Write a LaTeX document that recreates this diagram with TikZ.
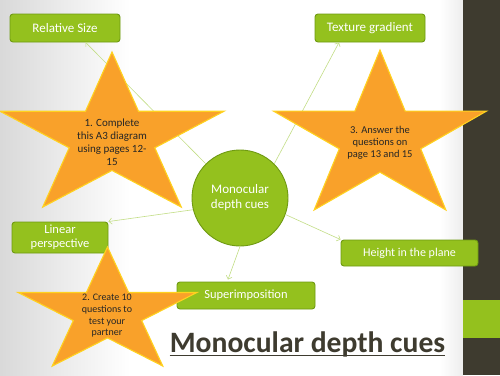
\documentclass[tikz,border=0pt]{standalone}
\usepackage{fontspec}
\setmainfont{Carlito}
\usepackage{tikz}
\usetikzlibrary{arrows.meta,shapes.geometric}
\definecolor{cuegreen}{HTML}{94C11E}
\definecolor{cueborder}{HTML}{6F9A12}
\definecolor{linkgreen}{HTML}{C3DE86}
\definecolor{starorange}{HTML}{F9A12A}
\definecolor{staredge}{HTML}{FFD21F}
\definecolor{slatedark}{HTML}{3E3B2F}

\begin{document}
\begin{tikzpicture}[x=1pt, y=-1pt, box/.style={draw=cueborder, fill=cuegreen, line width=0.9pt, rounded corners=3pt, text=white, align=center, inner sep=0pt, font=\fontsize{13}{14.3}\selectfont}, arr/.style={-{Straight Barb[length=3pt,width=6pt]}, draw=linkgreen, line width=0.6pt}, cuestar/.style={star, star points=5, star point ratio=2.618, inner sep=0pt, draw=staredge, line width=1.1pt, fill=starorange}, task/.style={align=center, text=black!85, inner sep=0pt}]
\useasboundingbox (0,0) rectangle (500,375);
\fill[white] (0,0) rectangle (500,375);
\shade[left color=black!15, right color=white] (0,0) rectangle (130,375);
\shade[left color=white, right color=black!7] (440,0) rectangle (463,375);
\fill[slatedark] (463,0) rectangle (500,375);
\fill[cuegreen] (463,300) rectangle (500,338);
\node[box, minimum width=110pt, minimum height=28pt] (relsize) at (65,28) {Relative Size};
\node[box, minimum width=110pt, minimum height=28pt] (texture) at (370,28) {Texture gradient};
\node[box, minimum width=96pt, minimum height=31pt, font=\fontsize{12.5}{14.3}\selectfont] (linear) at (60,237.5) {Linear\\perspective};
\node[box, minimum width=138pt, minimum height=27pt, font=\fontsize{12.5}{14.3}\selectfont] (superimp) at (246,295.5) {Superimposition};
\node[box, minimum width=137pt, minimum height=26pt, font=\fontsize{12}{14.3}\selectfont] (height) at (409.5,253) {Height in the plane};
\node[box, circle, minimum size=96pt, font=\fontsize{13}{15}\selectfont] (cues) at (240,198) {Monocular\\depth cues};
\draw[arr] (cues.135) -- (relsize.-35);
\draw[arr] (cues.45) -- (texture.-155);
\draw[arr] (cues.194) -- (linear.north east);
\draw[arr] (cues.-20) -- (height.north west);
\draw[arr] (cues.south) -- ([xshift=-18pt, yshift=2pt]superimp.north);
% the three task stars
\node[cuestar, minimum size=171.4pt, xscale=1.375] (star1) at (112,137.7) {};
\node[cuestar, minimum size=131.6pt, xscale=1.429] (star2) at (107.5,312.8) {};
\node[cuestar, minimum size=176.8pt, xscale=1.267] (star3) at (380,138.4) {};
\node[task, font=\fontsize{11}{13}\selectfont] (task1) at (112,142) {1. Complete\\this A3 diagram\\using pages 12-\\15};
\node[task, font=\fontsize{10}{11.7}\selectfont] (task2) at (107,316) {2. Create 10\\questions to\\test your\\partner};
\node[task, font=\fontsize{10.5}{12}\selectfont] (task3) at (380,143) {3. Answer the\\questions on\\page 13 and 15};
\node[anchor=base, inner sep=0pt, text=slatedark, font=\fontsize{29.6}{34}\selectfont\bfseries] (title) at (307.5,352) {Monocular depth cues};
\draw[slatedark, line width=1.6pt] ([yshift=-3.5pt]title.base west) -- ([yshift=-3.5pt]title.base east);
\end{tikzpicture}
\end{document}
